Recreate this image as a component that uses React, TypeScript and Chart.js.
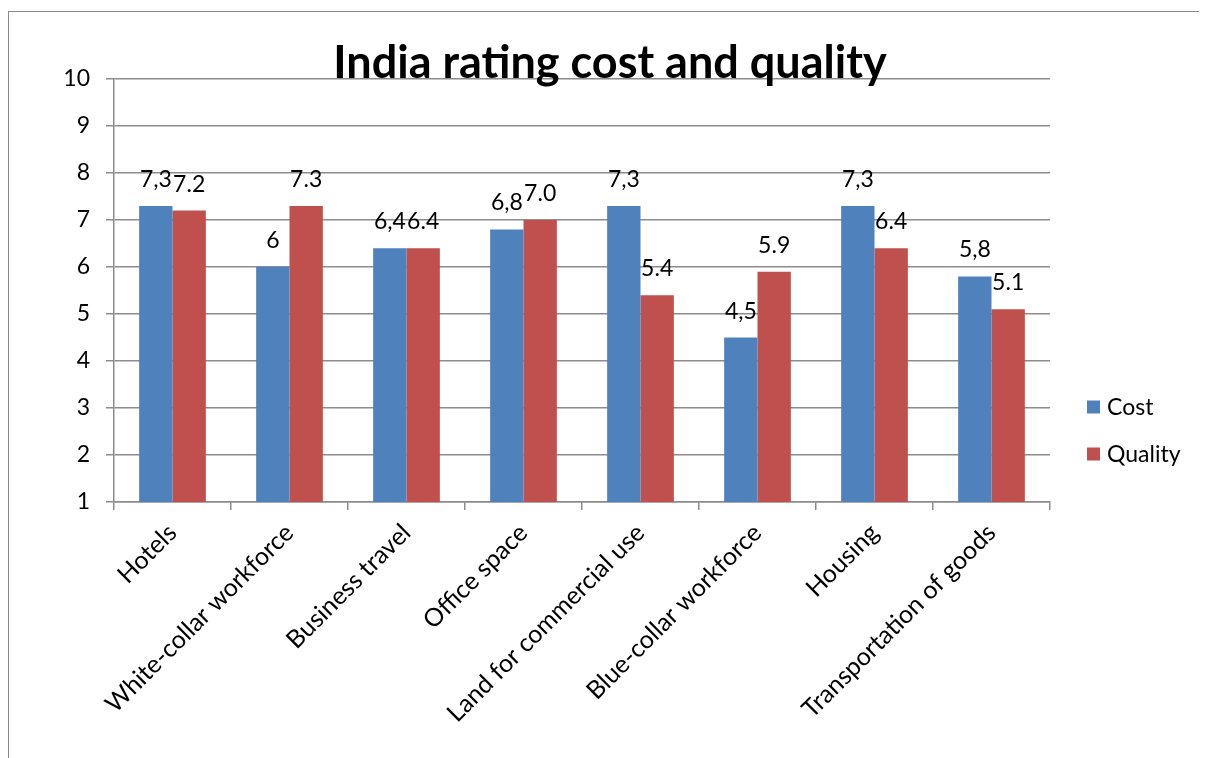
import React, { useEffect, useRef } from "react";
import { Chart, registerables } from "chart.js";

Chart.register(...registerables);

// Chart content
const chartTitle = "India rating cost and quality";
const categories = [
  "Hotels",
  "White-collar workforce",
  "Business travel",
  "Office space",
  "Land for commercial use",
  "Blue-collar workforce",
  "Housing",
  "Transportation of goods",
];
const costValues = [7.3, 6, 6.4, 6.8, 7.3, 4.5, 7.3, 5.8];
const qualityValues = [7.2, 7.3, 6.4, 7.0, 5.4, 5.9, 6.4, 5.1];
const seriesNames = ["Cost", "Quality"];
const yMin = 1;
const yMax = 10;
const yStep = 1;

const BLUE = "#4F81BD";
const RED = "#C0504D";
const GRID = "#8c8c8c";
const FONT = "Lato, 'Open Sans', sans-serif";

// Cost labels use a decimal comma, Quality labels a decimal point
const costLabel = (v: number) => String(v).replace(".", ",");
const qualityLabel = (v: number) => v.toFixed(1);
const labelFormatters = [costLabel, qualityLabel];

const valueLabels = {
  id: "valueLabels",
  afterDatasetsDraw(chart: any) {
    const ctx = chart.ctx;
    ctx.save();
    ctx.font = `23px ${FONT}`;
    ctx.fillStyle = "#000";
    ctx.textAlign = "center";
    ctx.textBaseline = "alphabetic";
    chart.data.datasets.forEach((ds: any, di: number) => {
      const meta = chart.getDatasetMeta(di);
      meta.data.forEach((bar: any, i: number) => {
        ctx.fillText(labelFormatters[di](ds.data[i]), bar.x, bar.y - 19);
      });
    });
    ctx.restore();
  },
};

const titleAndLegend = {
  id: "titleAndLegend",
  afterDraw(chart: any) {
    const ctx = chart.ctx;
    const area = chart.chartArea;
    ctx.save();
    // title, sitting on the top gridline
    ctx.font = `bold 45px ${FONT}`;
    ctx.fillStyle = "#000";
    ctx.textAlign = "center";
    ctx.textBaseline = "alphabetic";
    ctx.fillText(chartTitle, chart.width / 2 + 2, area.top - 1);

    // legend on the right, vertically centred on the canvas
    const gap = 47;
    const n = chart.data.datasets.length;
    const startY = chart.height / 2 - ((n - 1) * gap) / 2;
    ctx.font = `23px ${FONT}`;
    ctx.textAlign = "left";
    ctx.textBaseline = "middle";
    chart.data.datasets.forEach((ds: any, i: number) => {
      const cy = startY + i * gap;
      ctx.fillStyle = ds.backgroundColor;
      ctx.fillRect(area.right + 37, cy - 7, 13, 13);
      ctx.fillStyle = "#000";
      ctx.fillText(ds.label, area.right + 57, cy);
    });
    ctx.restore();
  },
};

export default function App() {
  const canvasRef = useRef<HTMLCanvasElement | null>(null);

  useEffect(() => {
    if (!canvasRef.current) return;
    const chart = new Chart(canvasRef.current, {
      type: "bar",
      data: {
        labels: categories,
        datasets: [
          { label: seriesNames[0], data: costValues, backgroundColor: BLUE, borderWidth: 0 },
          { label: seriesNames[1], data: qualityValues, backgroundColor: RED, borderWidth: 0 },
        ],
      },
      options: {
        animation: false,
        responsive: true,
        maintainAspectRatio: false,
        datasets: {
          bar: { categoryPercentage: 0.57, barPercentage: 1 },
        },
        layout: { padding: { top: 67, right: 157, left: 0, bottom: 0 } },
        plugins: {
          legend: { display: false },
          title: { display: false },
          tooltip: { enabled: false },
        },
        scales: {
          x: {
            offset: true,
            grid: {
              display: true,
              drawOnChartArea: false,
              drawTicks: true,
              tickLength: 8,
              offset: true,
              color: GRID,
              lineWidth: 1.5,
            },
            border: { display: true, color: GRID, width: 1.5 },
            ticks: {
              color: "#000",
              font: { family: FONT, size: 25 },
              minRotation: 45,
              maxRotation: 45,
              autoSkip: false,
              padding: 8,
            },
            afterFit: (scale: any) => {
              scale.height = 348;
            },
          },
          y: {
            min: yMin,
            max: yMax,
            grid: {
              color: GRID,
              lineWidth: 1.5,
              drawTicks: true,
              tickLength: 8,
            },
            border: { display: true, color: GRID, width: 1.5 },
            ticks: {
              stepSize: yStep,
              color: "#000",
              font: { family: FONT, size: 23 },
              padding: 16,
            },
            afterFit: (scale: any) => {
              scale.width = 105;
            },
          },
        },
      },
      plugins: [valueLabels, titleAndLegend],
    });
    return () => chart.destroy();
  }, []);

  return (
    <div
      style={{
        marginTop: 3,
        marginRight: -8,
        height: 747,
        overflow: "hidden",
        borderLeft: "1px solid #8a8a8a",
        borderTop: "1px solid #8a8a8a",
        background: "#fff",
      }}
    >
      <div style={{ position: "relative", width: "100%", height: 838 }}>
        <canvas ref={canvasRef} />
      </div>
    </div>
  );
}
